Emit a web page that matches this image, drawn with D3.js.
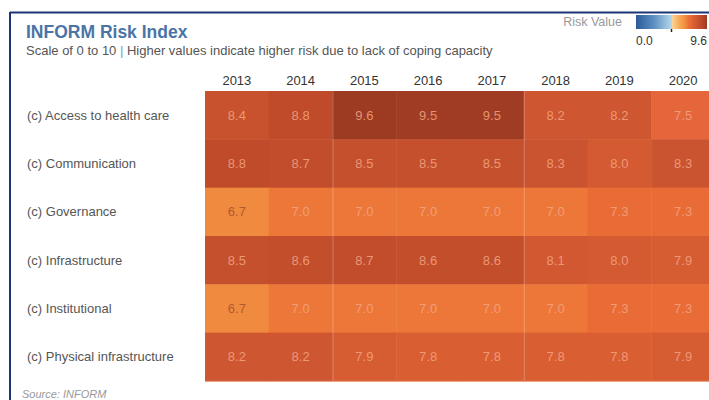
<!DOCTYPE html>
<html><head><meta charset="utf-8">
<script src="https://cdn.jsdelivr.net/npm/d3@7"></script>
<style>body{margin:0;background:#fff;}svg{display:block;font-family:"Liberation Sans",Arial,sans-serif;}</style>
</head><body>
<svg id="c" width="709" height="400"></svg>
<script>
const years = ["2013","2014","2015","2016","2017","2018","2019","2020"];
const categories = ["(c) Access to health care","(c) Communication","(c) Governance","(c) Infrastructure","(c) Institutional","(c) Physical infrastructure"];
const accessHealth = [8.4,8.8,9.6,9.5,9.5,8.2,8.2,7.5];
const communication = [8.8,8.7,8.5,8.5,8.5,8.3,8.0,8.3];
const governance = [6.7,7.0,7.0,7.0,7.0,7.0,7.3,7.3];
const infrastructure = [8.5,8.6,8.7,8.6,8.6,8.1,8.0,7.9];
const institutional = [6.7,7.0,7.0,7.0,7.0,7.0,7.3,7.3];
const physicalInfra = [8.2,8.2,7.9,7.8,7.8,7.8,7.8,7.9];
const seriesValues = [accessHealth,communication,governance,infrastructure,institutional,physicalInfra];
const legendTicks = ["0.0","9.6"];

const svg = d3.select("#c");
// frame
svg.append("line").attr("x1",10).attr("x2",709).attr("y1",12.5).attr("y2",12.5).attr("stroke","#1b3576").attr("stroke-width",2);
svg.append("line").attr("x1",10).attr("x2",10).attr("y1",12).attr("y2",400).attr("stroke","#1b3576").attr("stroke-width",2);

svg.append("text").attr("x",26).attr("y",38).attr("font-size",17.5).attr("font-weight","bold").attr("fill","#4a74a6").text("INFORM Risk Index");
const sub = svg.append("text").attr("x",26).attr("y",55).attr("font-size",13).attr("fill","#555");
sub.append("tspan").text("Scale of 0 to 10 ");
sub.append("tspan").attr("fill","#6d9ccf").text("|");
sub.append("tspan").text(" Higher values indicate higher risk due to lack of coping capacity");

// color scale
const color = d3.scaleLinear()
  .domain([0, 2.4, 4.8, 4.81, 6.0, 6.7, 7.0, 7.3, 7.5, 7.8, 8.2, 8.5, 8.8, 9.6])
  .range(["#2a5b98","#5d8fc3","#b5d6ea","#fbd89a","#f6a552","#f08a3e","#ec7738","#e96b35","#e5663a","#d95e31","#ce5631","#c5502d","#bf4b2b","#9c3a22"]);

const x = d3.scaleBand().domain(years).range([205, 205 + 63.75*8]).padding(0);
const y = d3.scaleBand().domain(categories).range([91, 381]).padding(0);

const cells = [];
categories.forEach((c,i)=>years.forEach((yr,j)=>cells.push({c,yr,v:seriesValues[i][j]})));

svg.append("g").selectAll("rect").data(cells).join("rect")
  .attr("x",d=>x(d.yr)).attr("y",d=>y(d.c))
  .attr("width",x.bandwidth()+0.5).attr("height",y.bandwidth()+0.5)
  .attr("fill",d=>color(d.v));

// faint separators
const g2 = svg.append("g").attr("stroke","#fff").attr("stroke-opacity",0.25).attr("stroke-width",1);
["2015","2018"].forEach(yr=>g2.append("line").attr("x1",x(yr)+0.5).attr("x2",x(yr)+0.5).attr("y1",91).attr("y2",381));
g2.append("line").attr("x1",205).attr("x2",709).attr("y1",381).attr("y2",381).attr("stroke","#e8825a").attr("stroke-opacity",0.5);

svg.append("g").selectAll("text").data(cells).join("text")
  .attr("x",d=>x(d.yr)+x.bandwidth()/2).attr("y",d=>y(d.c)+y.bandwidth()/2+4.5)
  .attr("text-anchor","middle").attr("font-size",13)
  .attr("fill",d=>d.v<6.8?"#a9532e":"#f2a584").attr("fill-opacity",d=>d.v<6.8?0.9:0.85)
  .text(d=>d3.format(".1f")(d.v));

// year header
svg.append("g").selectAll("text").data(years).join("text")
  .attr("x",d=>x(d)+x.bandwidth()/2).attr("y",85).attr("text-anchor","middle")
  .attr("font-size",13).attr("fill","#333").text(d=>d);

// row labels
svg.append("g").selectAll("text").data(categories).join("text")
  .attr("x",27).attr("y",d=>y(d)+y.bandwidth()/2+4.5).attr("font-size",13).attr("fill","#555").text(d=>d);

// legend
const lx = 636, lw = 71, ly = 15, lh = 14;
const defs = svg.append("defs");
const grad = defs.append("linearGradient").attr("id","lg");
color.domain().forEach((d,i)=>grad.append("stop").attr("offset",(d/9.6*100)+"%").attr("stop-color",color.range()[i]));
svg.append("rect").attr("x",lx).attr("y",ly).attr("width",lw).attr("height",lh).attr("fill","url(#lg)");
svg.append("line").attr("x1",lx+lw*0.5).attr("x2",lx+lw*0.5).attr("y1",ly+lh).attr("y2",ly+lh+3).attr("stroke","#222").attr("stroke-width",1.5);
svg.append("text").attr("x",622).attr("y",26).attr("text-anchor","end").attr("font-size",12.5).attr("fill","#999").text("Risk Value");
svg.append("text").attr("x",lx).attr("y",45).attr("font-size",12).attr("fill","#333").text(legendTicks[0]);
svg.append("text").attr("x",lx+lw).attr("y",45).attr("text-anchor","end").attr("font-size",12).attr("fill","#333").text(legendTicks[1]);

svg.append("text").attr("x",22).attr("y",398).attr("font-size",11).attr("font-style","italic").attr("fill","#999").text("Source: INFORM");
</script>
</body></html>
